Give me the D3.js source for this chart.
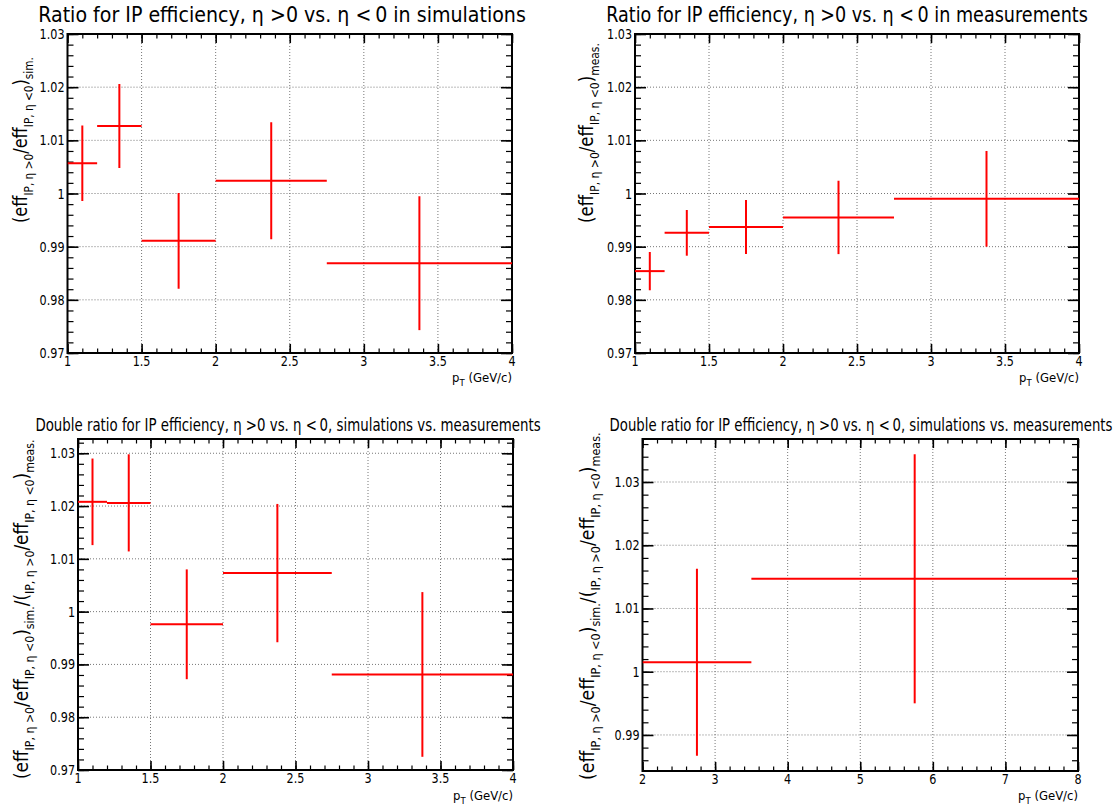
<!DOCTYPE html>
<html>
<head>
<meta charset="utf-8">
<script src="https://cdn.jsdelivr.net/npm/d3@7"></script>
<style>
  body { margin: 0; background: #fff; }
  svg { display: block; }
  text { font-family: "DejaVu Sans", sans-serif; fill: #000; }
</style>
</head>
<body>
<svg id="chart" width="1120" height="805"></svg>
<script>
// pT bins (GeV/c) used for the ratios
const binLow  = [1.0, 1.2, 1.5, 2.0, 2.75];
const binHigh = [1.2, 1.5, 2.0, 2.75, 4.0];

// eta>0 / eta<0 IP efficiency ratio, simulations
const simRatio = [1.0057, 1.0127, 0.9911, 1.0024, 0.9869];
const simErr   = [0.0071, 0.0079, 0.0090, 0.0110, 0.0126];

// eta>0 / eta<0 IP efficiency ratio, measurements
const measRatio = [0.9854, 0.9926, 0.9937, 0.9955, 0.9990];
const measErr   = [0.0036, 0.0043, 0.0051, 0.0069, 0.0090];

// double ratio sim / meas in the fine bins
const doubleRatio = [1.0208, 1.0206, 0.9976, 1.0073, 0.9881];
const doubleErr   = [0.0082, 0.0092, 0.0104, 0.0131, 0.0156];

// double ratio in two wide bins
const wideBinLow  = [2.0, 3.5];
const wideBinHigh = [3.5, 8.0];
const wideDoubleRatio = [1.0015, 1.0147];
const wideDoubleErr   = [0.0148, 0.0197];

// axis ticks
const ptTicks      = [1, 1.5, 2, 2.5, 3, 3.5, 4];
const ptWideTicks  = [2, 3, 4, 5, 6, 7, 8];
const ratioTicks   = [0.97, 0.98, 0.99, 1, 1.01, 1.02, 1.03];
const wideRatioTicks = [0.99, 1, 1.01, 1.02, 1.03];

const ETA = "\u03B7";
const titleSingle = w => `Ratio for IP efficiency, ${ETA} >0 vs. ${ETA} <\u20090 in ${w}`;
const titleDouble = `Double ratio for IP efficiency, ${ETA} >0 vs. ${ETA} <\u20090, simulations vs. measurements`;
const ratioLabel = tag => [
  ["(eff"], [`IP, ${ETA} >0`, "sub"], ["/eff"], [`IP, ${ETA} <0`, "sub"], [")"], [tag, "sub"]
];
const doubleLabel = [...ratioLabel("sim."), ["/("], ...ratioLabel("meas.").slice(1)];
const ptLabel = [["p"], ["T", "sub"], [" (GeV/c)"]];

const svg = d3.select("#chart");

// Text helper: squeezes glyphs along the writing direction (narrow face)
function label(parent, o) {
  const g = parent.append("g");
  const t = g.append("text")
    .attr("text-anchor", o.anchor || "start")
    .attr("font-size", o.size);
  const parts = typeof o.text === "string" ? [[o.text]] : o.text;
  const shift = o.subShift || o.size * 0.3;
  let down = false;
  parts.forEach(([s, kind]) => {
    const sp = t.append("tspan").text(s);
    if (kind === "sub") {
      sp.attr("font-size", o.subSize || o.size * 0.65);
      if (!down) { sp.attr("dy", shift); down = true; }
    } else if (down) {
      sp.attr("dy", -shift); down = false;
    }
  });
  let sx = o.sx || 1;
  if (o.width) sx = o.width / t.node().getBBox().width;
  g.attr("transform", `translate(${o.x},${o.y}) rotate(${o.rotate || 0}) scale(${sx},1)`);
  return g;
}

const fmtY = d => String(+d.toFixed(2));
const fmtX = d => String(d);

function drawPanel(p) {
  const g = svg.append("g");
  const x = d3.scaleLinear().domain(p.xDomain).range(p.xRange);
  const y = d3.scaleLinear().domain(p.yDomain).range(p.yRange);
  const [x0, x1] = p.xRange, [y0, y1] = p.yRange;

  // dotted grid at major ticks
  const grid = g.append("g").attr("stroke", "#777").attr("stroke-width", 1)
    .attr("stroke-dasharray", "1,2");
  p.xTicks.filter(v => x(v) > x0 + 1 && x(v) < x1 - 1).forEach(v => {
    grid.append("line").attr("x1", x(v)).attr("x2", x(v)).attr("y1", y0).attr("y2", y1);
  });
  p.yTicks.filter(v => y(v) < y0 - 1 && y(v) > y1 + 1).forEach(v => {
    grid.append("line").attr("x1", x0).attr("x2", x1).attr("y1", y(v)).attr("y2", y(v));
  });

  // tick marks on all four sides, pointing inward
  const minorX = d3.range(p.xDomain[0], p.xDomain[1] + 1e-9, p.xMinor);
  const minorY = d3.range(Math.ceil(p.yDomain[0] / p.yMinor - 1e-6) * p.yMinor, p.yDomain[1] + 1e-9, p.yMinor);
  const axes = [
    [d3.axisBottom(x), `translate(0,${y0})`, p.xTicks, minorX, -9, -4.5],
    [d3.axisTop(x), `translate(0,${y1})`, p.xTicks, minorX, -9, -4.5],
    [d3.axisLeft(y), `translate(${x0},0)`, p.yTicks, minorY, -11, -6],
    [d3.axisRight(y), `translate(${x1},0)`, p.yTicks, minorY, -11, -6]
  ];
  axes.forEach(([ax, tr, major, minor, ms, ns]) => {
    const a1 = g.append("g").attr("transform", tr)
      .call(ax.tickValues(major).tickSize(ms).tickFormat(""));
    a1.select(".domain").remove();
    a1.selectAll("line").attr("stroke", "#000").attr("stroke-width", 1.6);
    const a2 = g.append("g").attr("transform", tr)
      .call(ax.tickValues(minor).tickSize(ns).tickFormat(""));
    a2.select(".domain").remove();
    a2.selectAll("line").attr("stroke", "#000").attr("stroke-width", 1.2);
  });

  // frame
  g.append("rect").attr("x", x0).attr("y", y1).attr("width", x1 - x0).attr("height", y0 - y1)
    .attr("fill", "none").attr("stroke", "#000").attr("stroke-width", 2);

  // tick labels
  p.xTicks.forEach(v => label(g, { text: fmtX(v), x: x(v), y: y0 + 13, size: 14, anchor: "middle", sx: 0.8 }));
  p.yTicks.forEach(v => label(g, { text: fmtY(v), x: x0 - 3, y: y(v) + 5, size: 14, anchor: "end", sx: 0.8 }));

  // measurements: horizontal bin width and vertical error
  const clipId = "clip" + p.id;
  g.append("clipPath").attr("id", clipId).append("rect")
    .attr("x", x0).attr("y", y1).attr("width", x1 - x0).attr("height", y0 - y1);
  const marks = g.append("g").attr("clip-path", `url(#${clipId})`)
    .attr("stroke", "#ff0000").attr("stroke-width", 2);
  const idx = d3.range(p.val.length);
  marks.selectAll("line.h").data(idx).join("line").attr("class", "h")
    .attr("x1", i => x(p.lo[i])).attr("x2", i => x(p.hi[i]))
    .attr("y1", i => y(p.val[i])).attr("y2", i => y(p.val[i]));
  marks.selectAll("line.v").data(idx).join("line").attr("class", "v")
    .attr("x1", i => x((p.lo[i] + p.hi[i]) / 2)).attr("x2", i => x((p.lo[i] + p.hi[i]) / 2))
    .attr("y1", i => y(p.val[i] - p.err[i])).attr("y2", i => y(p.val[i] + p.err[i]));

  // titles
  label(g, { text: p.title, x: p.titleX, y: p.titleY, size: p.titleSize, anchor: "middle", width: p.titleW });
  label(g, { text: ptLabel, x: x1, y: p.xTitleY, size: 13, subSize: 9.5, subShift: 4, anchor: "end", width: 60 });
  label(g, { text: p.yLabel, x: p.yLabelX, y: p.yLabelY, size: 20, subSize: 13, subShift: 6,
             anchor: "start", rotate: -90, width: p.yLabelW });
}

const panels = [
  { id: 1, xDomain: [1, 4], xRange: [67.5, 512], yDomain: [0.97, 1.03], yRange: [353, 34],
    xTicks: ptTicks, xMinor: 0.1, yTicks: ratioTicks, yMinor: 0.002,
    lo: binLow, hi: binHigh, val: simRatio, err: simErr,
    title: titleSingle("simulations"), titleX: 282, titleY: 22, titleSize: 21, titleW: 488,
    xTitleY: 382, yLabel: ratioLabel("sim."), yLabelX: 27, yLabelY: 223, yLabelW: 166 },
  { id: 2, xDomain: [1, 4], xRange: [635, 1079], yDomain: [0.97, 1.03], yRange: [353, 34],
    xTicks: ptTicks, xMinor: 0.1, yTicks: ratioTicks, yMinor: 0.002,
    lo: binLow, hi: binHigh, val: measRatio, err: measErr,
    title: titleSingle("measurements"), titleX: 847, titleY: 22, titleSize: 21, titleW: 482,
    xTitleY: 382, yLabel: ratioLabel("meas."), yLabelX: 593, yLabelY: 223, yLabelW: 180 },
  { id: 3, xDomain: [1, 4], xRange: [78, 513], yDomain: [0.97, 1.0327], yRange: [770, 439],
    xTicks: ptTicks, xMinor: 0.1, yTicks: ratioTicks, yMinor: 0.002,
    lo: binLow, hi: binHigh, val: doubleRatio, err: doubleErr,
    title: titleDouble, titleX: 288, titleY: 431, titleSize: 17, titleW: 506,
    xTitleY: 800, yLabel: doubleLabel, yLabelX: 28, yLabelY: 779, yLabelW: 340 },
  { id: 4, xDomain: [2, 8], xRange: [642.5, 1078], yDomain: [0.9843, 1.0368], yRange: [771, 439],
    xTicks: ptWideTicks, xMinor: 0.2, yTicks: wideRatioTicks, yMinor: 0.002,
    lo: wideBinLow, hi: wideBinHigh, val: wideDoubleRatio, err: wideDoubleErr,
    title: titleDouble, titleX: 861, titleY: 431, titleSize: 17, titleW: 503,
    xTitleY: 800, yLabel: doubleLabel, yLabelX: 594, yLabelY: 780, yLabelW: 348 }
];

panels.forEach(drawPanel);
</script>
</body>
</html>
